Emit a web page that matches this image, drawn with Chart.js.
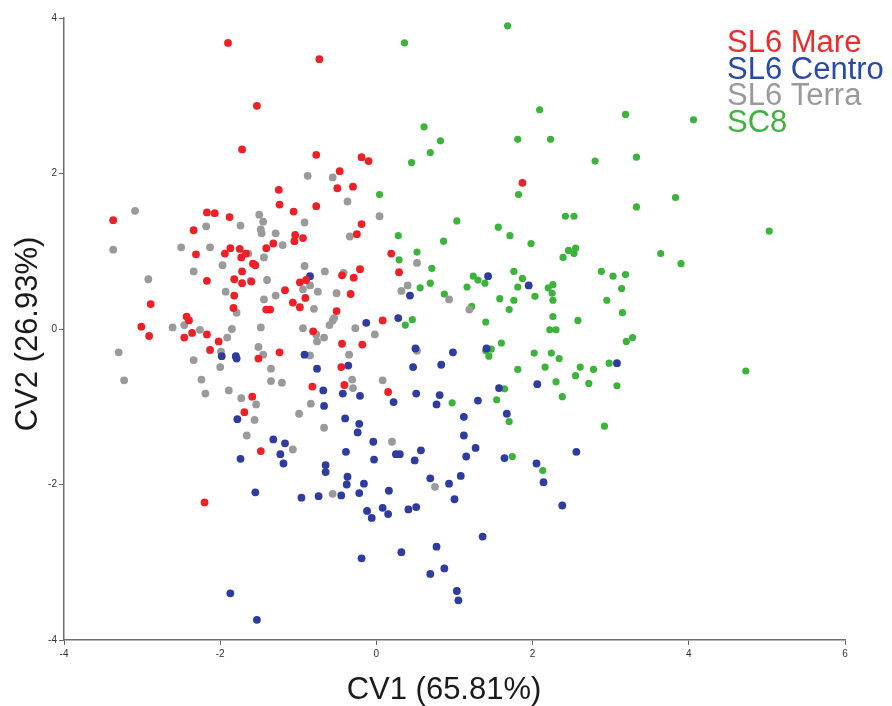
<!DOCTYPE html>
<html>
<head>
<meta charset="utf-8">
<script src="https://cdn.jsdelivr.net/npm/chart.js@4"></script>
<style>
  html, body { margin: 0; padding: 0; background: #fff; }
  #wrap { width: 892px; height: 706px; }
</style>
</head>
<body>
<div id="wrap"><canvas id="cv"></canvas></div>
<script>
// canonical scores [CV1, CV2] per group
const sl6Mare = [
  [-1.90,3.68],[-1.53,2.87],[-1.72,2.31],[-1.25,1.79],[-1.24,1.60],[-0.73,3.47],[-0.77,2.24],
  [-0.19,2.21],[-0.10,2.16],[-0.47,2.03],[-0.50,1.81],[-0.30,1.83],[1.87,1.88],[-0.77,1.58],
  [-3.37,1.40],[-2.17,1.50],[-2.07,1.49],[-1.88,1.44],[-1.06,1.51],[-2.34,1.27],[-1.04,1.21],
  [-1.05,1.13],[-1.87,1.04],[-1.75,1.03],[-1.94,0.97],[-1.73,0.92],[-1.67,0.97],[-1.41,1.04],
  [-1.32,1.10],[-2.31,0.96],[-1.58,0.84],[-1.55,0.82],[-1.72,0.74],[-2.17,0.62],[-1.82,0.64],
  [-1.72,0.59],[-1.60,0.61],[-1.17,0.50],[-1.82,0.43],[-1.07,0.34],[-2.89,0.32],[-1.83,0.27],
  [-1.41,0.25],[-1.36,0.25],[-2.43,0.16],[-2.40,0.11],[-3.01,0.03],[-2.91,-0.09],[-2.46,-0.11],
  [-2.36,-0.05],[-2.17,-0.07],[-2.02,-0.16],[-2.13,-0.27],[-1.51,-0.38],[-1.24,-0.30],[-1.59,-0.87],
  [-1.69,-1.07],[-0.94,1.17],[-0.19,1.35],[-0.25,1.22],[0.19,0.97],[-0.44,0.69],[-0.21,0.77],
  [-0.29,0.66],[0.29,0.73],[-0.90,0.63],[-0.98,0.60],[-0.33,0.45],[-0.91,0.40],[-0.98,0.28],
  [-0.51,0.23],[0.08,0.11],[-0.81,-0.03],[-0.44,-0.19],[-0.18,-0.20],[-0.45,-0.49],[-0.41,-0.72],
  [-0.82,-0.74],[0.15,-0.81],[-1.48,-1.57],[-2.20,-2.23]
];

const sl6Centro = [
  [-1.98,-0.35],[-1.80,-0.35],[-1.79,-0.38],[-1.78,-1.16],[-0.85,0.68],[0.43,0.43],[1.43,0.68],
  [1.95,0.56],[0.28,0.14],[-0.13,0.08],[0.50,-0.25],[0.98,-0.30],[1.41,-0.25],[-0.92,-0.33],
  [-0.76,-0.51],[-0.36,-0.47],[0.47,-0.49],[0.83,-0.46],[-0.68,-0.79],[-0.43,-0.83],[-0.21,-0.86],
  [0.51,-0.83],[0.81,-0.85],[1.57,-0.76],[2.06,-0.71],[1.30,-0.92],[0.77,-0.97],[0.22,-0.94],
  [-0.67,-0.99],[1.67,-1.09],[1.12,-1.13],[-0.40,-1.15],[-0.22,-1.22],[3.08,-0.44],[-1.32,-1.42],
  [-1.17,-1.47],[-1.23,-1.61],[-1.19,-1.73],[-1.74,-1.67],[-1.55,-2.10],[-1.87,-3.40],[-1.53,-3.74],
  [-0.24,-1.33],[-0.04,-1.45],[-0.39,-1.58],[0.25,-1.61],[0.30,-1.61],[0.57,-1.56],[0.49,-1.69],
  [-0.03,-1.68],[-0.65,-1.75],[-0.65,-1.84],[-0.37,-1.90],[-0.38,-2.00],[-0.16,-1.99],[-0.96,-2.17],
  [-0.74,-2.15],[-0.45,-2.14],[-0.22,-2.11],[0.16,-2.08],[0.69,-1.92],[0.93,-1.99],[1.08,-1.89],
  [1.00,-2.19],[1.12,-1.37],[1.27,-1.53],[1.15,-1.64],[1.64,-1.66],[2.05,-1.73],[-0.12,-2.34],
  [-0.06,-2.43],[0.08,-2.30],[0.15,-2.38],[0.41,-2.32],[0.51,-2.29],[1.36,-2.67],[0.77,-2.80],
  [0.32,-2.87],[-0.19,-2.95],[0.87,-3.08],[0.69,-3.15],[1.03,-3.37],[1.05,-3.49],[2.56,-1.58],
  [2.14,-1.97],[2.38,-2.27]
];

const sl6Terra = [
  [-3.09,1.52],[-1.50,1.47],[-1.45,1.38],[-2.18,1.32],[-1.74,1.33],[-1.48,1.28],[-1.47,1.23],
  [-1.29,1.23],[-3.37,1.02],[-2.50,1.05],[-2.13,1.05],[-1.64,0.97],[-1.20,1.08],[-1.44,0.92],
  [-1.97,0.82],[-2.34,0.74],[-2.92,0.64],[-1.61,0.62],[-1.40,0.63],[-1.93,0.48],[-1.29,0.43],
  [-1.44,0.38],[-1.79,0.21],[-2.61,0.02],[-2.46,0.05],[-2.26,-0.01],[-1.85,0.00],[-1.48,0.02],
  [-1.91,-0.11],[-3.30,-0.30],[-1.99,-0.29],[-1.51,-0.23],[-1.45,-0.33],[-2.34,-0.40],[-2.00,-0.49],
  [-1.35,-0.51],[-3.23,-0.66],[-2.24,-0.65],[-1.35,-0.67],[-1.21,-0.69],[-2.19,-0.83],[-1.89,-0.79],
  [-1.73,-0.89],[-1.54,-0.97],[-1.56,-1.17],[-0.88,1.97],[-0.56,1.95],[-0.37,1.64],[-0.92,1.37],
  [0.04,1.45],[-0.34,1.19],[0.52,0.85],[-0.92,0.81],[-0.66,0.74],[-0.42,0.72],[-0.85,0.56],
  [-0.94,0.51],[-0.75,0.48],[-0.51,0.46],[0.40,0.56],[0.32,0.49],[0.93,0.38],[1.19,0.25],
  [-0.80,0.26],[-0.54,0.14],[-0.56,0.11],[-0.60,0.05],[-0.27,0.01],[-0.94,0.01],[-0.77,-0.07],
  [-0.76,-0.16],[-0.67,-0.11],[-0.02,-0.07],[0.52,-0.28],[-0.85,-0.34],[-0.35,-0.33],[-0.31,-0.65],
  [-0.30,-0.76],[0.08,-0.66],[-0.84,-0.96],[-0.67,-1.27],[-0.99,-1.09],[-1.66,-1.37],[-1.07,-1.55],
  [0.20,-1.45],[-0.56,-2.12],[0.75,-2.03]
];

const sc8 = [
  [1.68,3.90],[0.36,3.68],[2.09,2.82],[0.61,2.60],[0.82,2.42],[0.69,2.27],[0.45,2.14],
  [1.81,2.44],[0.04,1.73],[1.82,1.73],[3.19,2.76],[4.06,2.69],[2.23,2.44],[2.80,2.16],
  [3.33,2.21],[3.83,1.69],[3.33,1.57],[2.42,1.45],[2.53,1.45],[1.03,1.39],[0.28,1.20],
  [0.86,1.13],[1.56,1.31],[1.71,1.20],[1.98,1.10],[0.52,0.99],[0.29,0.89],[0.71,0.78],
  [0.69,0.59],[0.56,0.53],[0.87,0.45],[1.24,0.68],[1.30,0.63],[1.39,0.59],[1.16,0.54],
  [1.76,0.74],[1.87,0.65],[1.81,0.54],[2.03,0.42],[1.58,0.39],[1.76,0.37],[1.70,0.25],
  [1.22,0.29],[0.46,0.12],[0.37,0.05],[1.40,0.09],[1.60,-0.18],[1.40,-0.28],[1.47,-0.26],
  [1.44,-0.35],[2.02,-0.31],[1.81,-0.52],[1.64,-0.77],[1.54,-0.91],[0.97,-0.95],[1.70,-1.19],
  [5.03,1.26],[2.46,1.01],[2.55,1.04],[2.53,0.97],[2.39,0.92],[3.64,0.97],[3.90,0.84],
  [2.88,0.74],[3.03,0.68],[3.19,0.70],[2.20,0.53],[2.26,0.57],[2.25,0.46],[3.14,0.52],
  [2.26,0.37],[2.95,0.37],[2.26,0.16],[3.15,0.21],[2.58,0.11],[2.22,-0.01],[2.30,-0.01],
  [3.28,-0.11],[3.20,-0.16],[2.24,-0.31],[2.34,-0.38],[2.98,-0.44],[2.16,-0.49],[2.61,-0.49],
  [2.78,-0.52],[2.55,-0.60],[2.30,-0.68],[2.72,-0.70],[3.08,-0.73],[2.38,-0.87],[4.73,-0.54],
  [2.92,-1.25],[1.74,-1.64],[2.13,-1.82]
];

const groupNames = ['SL6 Mare', 'SL6 Centro', 'SL6 Terra', 'SC8'];
const groupColors = ['#ee2027', '#2d3c9e', '#9a9a9a', '#3cb43c'];
const legendColors = ['#ee2a2a', '#2a48a8', '#9a9a9a', '#3cb43c'];
const groupData = [sl6Mare, sl6Centro, sl6Terra, sc8];

const FONT = '"Liberation Sans", Arial, sans-serif';

// legend and axis titles drawn straight onto the canvas
const labelsPlugin = {
  id: 'cvLabels',
  afterDraw(chart) {
    const ctx = chart.ctx;
    ctx.save();
    ctx.font = '31px ' + FONT;
    ctx.textBaseline = 'alphabetic';
    ctx.textAlign = 'left';
    groupNames.forEach((name, i) => {
      ctx.fillStyle = legendColors[i];
      ctx.fillText(name, 727, 52 + i * 26.7);
    });

    ctx.fillStyle = '#1a1a1a';
    ctx.textAlign = 'center';
    ctx.fillText('CV1 (65.81%)', 444, 699);

    ctx.translate(37, 334);
    ctx.rotate(-Math.PI / 2);
    ctx.fillText('CV2 (26.93%)', 0, 0);
    ctx.restore();
  }
};

const axisStyle = {
  grid: { drawOnChartArea: false, drawTicks: true, tickLength: 5, color: '#666', lineWidth: 1 },
  border: { color: '#6e6e6e', width: 1.5 },
};

new Chart(document.getElementById('cv'), {
  type: 'scatter',
  plugins: [labelsPlugin],
  data: {
    datasets: groupData.map((pts, i) => ({
      label: groupNames[i],
      data: pts.map(p => ({ x: p[0], y: p[1] })),
      backgroundColor: groupColors[i],
      borderWidth: 0,
      pointRadius: i === 3 ? 3.6 : 3.9,
      pointHoverRadius: 4
    }))
  },
  options: {
    responsive: true,
    maintainAspectRatio: false,
    animation: false,
    layout: { padding: { left: 0, right: 47, top: 18, bottom: 0 } },
    plugins: {
      legend: { display: false },
      tooltip: { enabled: false }
    },
    scales: {
      x: {
        ...axisStyle,
        type: 'linear',
        min: -4,
        max: 6,
        ticks: { stepSize: 2, color: '#333', font: { size: 10, family: FONT }, padding: 3, maxRotation: 0 },
        afterFit(scale) { scale.height = 66; }
      },
      y: {
        ...axisStyle,
        type: 'linear',
        min: -4,
        max: 4,
        ticks: { stepSize: 2, color: '#333', font: { size: 10, family: FONT }, padding: 2 },
        afterFit(scale) { scale.width = 64; }
      }
    }
  }
});
</script>
</body>
</html>
